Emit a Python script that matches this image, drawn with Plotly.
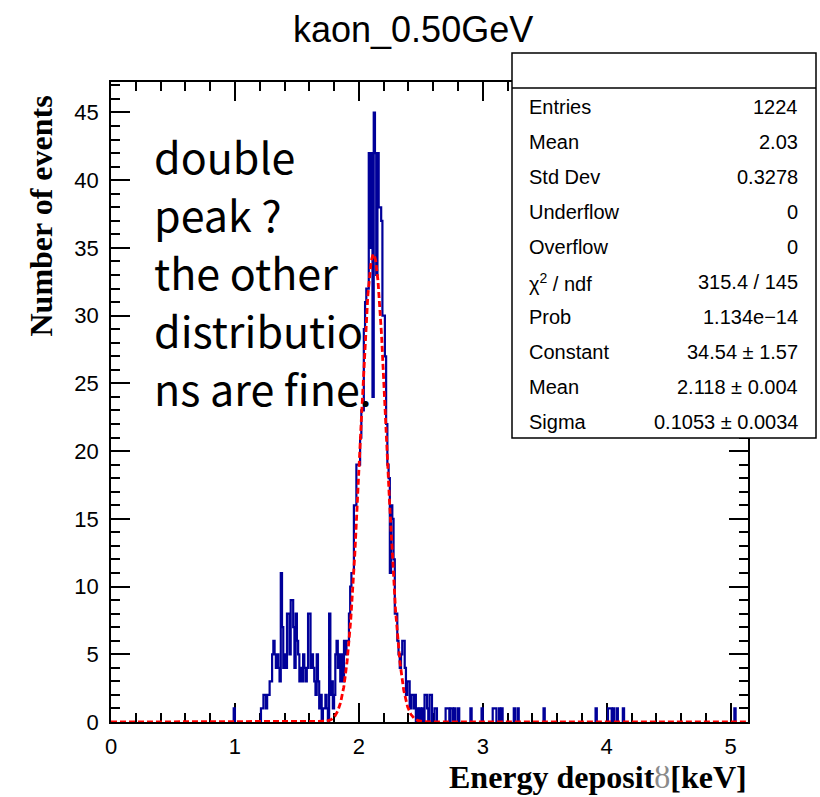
import numpy as np
import plotly.graph_objects as go

# ---------------- data ----------------
BIN_WIDTH = 0.01
X_MAX = 5.14
Y_MAX = 47.25

# consecutive bins starting at lower edge 1.21 keV
dense_start = 1.21
dense_counts = [
    1, 1, 2, 2, 1, 2, 2, 3, 3, 5,          # 1.21 - 1.30
    6, 5, 4, 5, 4, 3, 11, 7, 4, 5,         # 1.31 - 1.40
    4, 8, 8, 5, 9, 9, 7, 4, 8, 6,          # 1.41 - 1.50
    5, 3, 4, 3, 5, 4, 3, 4, 8, 8,          # 1.51 - 1.60
    4, 5, 4, 3, 2, 5, 3, 1, 2, 0,          # 1.61 - 1.70
    1, 1, 2, 1, 0, 8, 2, 3, 1, 2,          # 1.71 - 1.80
    5, 6, 4, 5, 3, 5, 3, 6, 5, 6,          # 1.81 - 1.90
    6, 8, 10, 11, 11, 16, 16, 19, 19, 19,  # 1.91 - 2.00
    21, 23, 23, 29, 31, 32, 32, 42, 35, 42,  # 2.01 - 2.10
    24, 45, 42, 33, 42, 38, 38, 37, 30, 30,  # 2.11 - 2.20
    27, 22, 19, 18, 11, 16, 15, 12, 8, 8,  # 2.21 - 2.30
    6, 5, 4, 5, 6, 6, 4, 2, 3, 3,          # 2.31 - 2.40
    1, 2, 2, 1, 2, 0, 1,                   # 2.41 - 2.47
]

# isolated bins outside the dense region (lower edge, count)
sparse_edges = [0.99, 2.49, 2.51, 2.53, 2.54, 2.55, 2.57, 2.58, 2.61, 2.62,
                2.70, 2.71, 2.72, 2.74, 2.75, 2.77, 2.80, 2.90, 2.99, 3.08,
                3.09, 3.10, 3.13, 3.15, 3.25, 3.28, 3.49, 3.91, 4.01, 4.02,
                4.03, 4.05, 4.08, 4.13, 5.03]
sparse_counts = [1, 1, 1, 2, 2, 1, 2, 2, 1, 1,
                 1, 1, 1, 1, 1, 1, 1, 1, 1, 1,
                 1, 1, 1, 1, 1, 1, 1, 1, 1, 1,
                 1, 1, 1, 1, 1]

# Gaussian fit parameters
fit_constant = 34.54
fit_mean = 2.118
fit_sigma = 0.1053

title_text = "kaon_0.50GeV"
x_title = "Energy deposit<span style='color:#8a8a8a;font-weight:normal'>ȣ</span>[keV]"
y_title = "Number of events"

stat_labels = ["Entries", "Mean", "Std Dev", "Underflow", "Overflow",
               "χ<sup>2</sup> / ndf", "Prob", "Constant", "Mean", "Sigma"]
stat_values = ["1224", "2.03", "0.3278", "0", "0",
               "315.4 / 145", "1.134e−14", "34.54 ± 1.57", "2.118 ± 0.004",
               "0.1053 ± 0.0034"]

note_lines = ["double", "peak ?", "the other", "distributio", "ns are fine."]

# ---------------- histogram outline ----------------
n_bins = int(round(X_MAX / BIN_WIDTH))
counts = np.zeros(n_bins)
i0 = int(round(dense_start / BIN_WIDTH))
counts[i0:i0 + len(dense_counts)] = dense_counts
for e, c in zip(sparse_edges, sparse_counts):
    counts[int(round(e / BIN_WIDTH))] = c
edges = np.arange(n_bins + 1) * BIN_WIDTH

hx, hy = [], []
i = 0
while i < n_bins:
    if counts[i] == 0:
        i += 1
        continue
    j = i
    while j < n_bins and counts[j] > 0:
        j += 1
    hx.append(edges[i]); hy.append(0)
    for k in range(i, j):
        hx += [edges[k], edges[k + 1]]
        hy += [counts[k], counts[k]]
    hx.append(edges[j]); hy.append(0)
    hx.append(None); hy.append(None)
    i = j

fx = np.linspace(0, X_MAX, 2500)
fy = fit_constant * np.exp(-0.5 * ((fx - fit_mean) / fit_sigma) ** 2)

fig = go.Figure()
fig.add_trace(go.Scatter(x=hx, y=hy, mode="lines",
                         line=dict(color="#000099", width=2.2),
                         connectgaps=False, hoverinfo="skip"))
fig.add_trace(go.Scatter(x=fx, y=fy, mode="lines",
                         line=dict(color="#ff0000", width=2.8, dash="6px,3px"),
                         hoverinfo="skip"))

# ---------------- layout ----------------
W, H = 820, 797
L, R, T, B = 111, 748, 82, 722


def px(p):
    return (p - L) / (R - L)


def py(p):
    return (B - p) / (B - T)


tick_font = dict(family="Liberation Sans, Arial", size=22, color="black")
axis_common = dict(
    ticks="inside", ticklen=19, tickwidth=1.5, tickcolor="black",
    showline=True, linecolor="black", linewidth=1.5, mirror="ticks",
    showgrid=False, zeroline=False, tickfont=tick_font,
)

fig.update_layout(
    width=W, height=H, autosize=False,
    margin=dict(l=L, r=W - R, t=T, b=H - B),
    paper_bgcolor="white", plot_bgcolor="white",
    showlegend=False,
    xaxis=dict(range=[0, X_MAX], tick0=0, dtick=1, layer="below traces",
               minor=dict(dtick=0.2, ticks="inside", ticklen=9,
                          tickcolor="black", tickwidth=1.5),
               ticklabelstandoff=4,
               **axis_common),
    yaxis=dict(range=[0, Y_MAX], tick0=0, dtick=5,
               minor=dict(dtick=1, ticks="inside", ticklen=9,
                          tickcolor="black", tickwidth=1.5),
               ticklabelstandoff=6,
               **axis_common),
)

ann = []
# title
ann.append(dict(text=title_text, x=px(413), y=py(30), xref="paper", yref="paper",
                xanchor="center", yanchor="middle", showarrow=False,
                font=dict(family="Liberation Sans, Arial", size=36, color="black")))
# axis titles
ann.append(dict(text="<b>" + x_title + "</b>", x=px(749), y=py(777),
                xref="paper", yref="paper", xanchor="right", yanchor="middle",
                showarrow=False,
                font=dict(family="Liberation Serif, Times New Roman", size=32,
                          color="black")))
ann.append(dict(text="<b>" + y_title + "</b>", x=px(40), y=py(94),
                xref="paper", yref="paper", xanchor="center", yanchor="top",
                textangle=-90, showarrow=False,
                font=dict(family="Liberation Serif, Times New Roman", size=32,
                          color="black")))

# overlay note
for k, line in enumerate(note_lines):
    ann.append(dict(text=line, x=px(152), y=py(155 + 58 * k),
                    xref="paper", yref="paper", xanchor="left",
                    yanchor="middle", showarrow=False,
                    font=dict(family="Noto Sans CJK JP", size=43,
                              color="black")))

# statistics box
box_l, box_r, box_t, box_b = 512, 816, 53, 438
shapes = [
    dict(type="rect", xref="paper", yref="paper",
         x0=px(box_l), x1=px(box_r), y0=py(box_b), y1=py(box_t),
         fillcolor="white", line=dict(color="black", width=1.5),
         layer="above"),
    dict(type="line", xref="paper", yref="paper",
         x0=px(box_l), x1=px(box_r), y0=py(88), y1=py(88),
         line=dict(color="black", width=1.5), layer="above"),
]
stat_font = dict(family="Liberation Sans, Arial", size=20, color="black")
for k, (lab, val) in enumerate(zip(stat_labels, stat_values)):
    yy = py(106.5 + 35.1 * k)
    ann.append(dict(text=lab, x=px(527), y=yy, xref="paper", yref="paper",
                    xanchor="left", yanchor="middle", showarrow=False,
                    font=stat_font))
    ann.append(dict(text=val, x=px(800), y=yy, xref="paper", yref="paper",
                    xanchor="right", yanchor="middle", showarrow=False,
                    font=stat_font))

fig.update_layout(annotations=ann, shapes=shapes)

fig.write_html("out.html")
